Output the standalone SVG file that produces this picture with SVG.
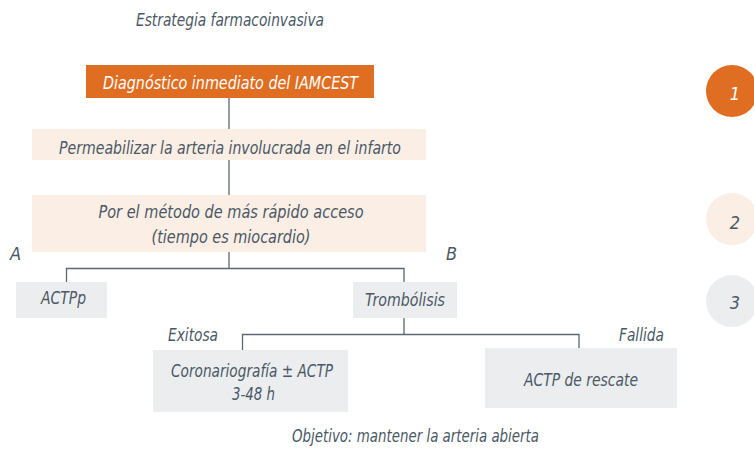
<svg xmlns="http://www.w3.org/2000/svg" width="754" height="459" viewBox="0 0 754 459">
<style>
text{font-family:"DejaVu Sans Condensed","Liberation Sans Narrow","Liberation Sans",sans-serif;font-style:italic;font-size:18px;fill:#4a5866;text-anchor:middle;}
.l{text-anchor:start;}
.w{fill:#ffffff;}
.peach{fill:#fbeee5;}
.grey{fill:#ebedef;}
.orange{fill:#e06e22;}
.ln{fill:none;stroke:#5b6873;stroke-width:1.3;}
</style>
<rect width="754" height="459" fill="#ffffff"/>
<text id="title" x="230" y="26" textLength="188" lengthAdjust="spacingAndGlyphs" style="font-size:17px">Estrategia farmacoinvasiva</text>
<g id="connectors">
<path class="ln" d="M229,98V129"/>
<path class="ln" d="M229,160V195"/>
<path class="ln" d="M229,252V268.5M66.5,282V268.5H404V282"/>
<path class="ln" d="M404,318V334.5M242.5,350V334.5H579V348"/>
</g>
<g id="n1"><rect class="orange" x="86" y="65" width="288" height="33"/><text class="w" x="230.5" y="89" textLength="255" lengthAdjust="spacingAndGlyphs">Diagnóstico inmediato del IAMCEST</text></g>
<g id="n2"><rect class="peach" x="32" y="129" width="394" height="31"/><text x="230" y="154" textLength="342" lengthAdjust="spacingAndGlyphs">Permeabilizar la arteria involucrada en el infarto</text></g>
<g id="n3"><rect class="peach" x="32" y="195" width="394" height="57"/><text x="231" y="218" textLength="265" lengthAdjust="spacingAndGlyphs">Por el método de más rápido acceso</text><text x="231" y="243" textLength="159" lengthAdjust="spacingAndGlyphs">(tiempo es miocardio)</text></g>
<text id="lA" class="l" x="10" y="260">A</text>
<text id="lB" class="l" x="446" y="260">B</text>
<g id="n4"><rect class="grey" x="16" y="282" width="91" height="36"/><text x="63.5" y="304" textLength="45" lengthAdjust="spacingAndGlyphs">ACTPp</text></g>
<g id="n5"><rect class="grey" x="353" y="282" width="104" height="36"/><text x="405" y="306" textLength="80" lengthAdjust="spacingAndGlyphs">Trombólisis</text></g>
<text id="lEx" class="l" x="168" y="341" textLength="50" lengthAdjust="spacingAndGlyphs">Exitosa</text>
<text id="lFa" class="l" x="619" y="341" textLength="45" lengthAdjust="spacingAndGlyphs">Fallida</text>
<g id="n6"><rect class="grey" x="153" y="350" width="195" height="62"/><text x="252" y="377" textLength="162" lengthAdjust="spacingAndGlyphs">Coronariografía ± ACTP</text><text x="253.5" y="400" textLength="43" lengthAdjust="spacingAndGlyphs">3-48 h</text></g>
<g id="n7"><rect class="grey" x="485" y="348" width="192" height="60"/><text x="581" y="386" textLength="114" lengthAdjust="spacingAndGlyphs">ACTP de rescate</text></g>
<text id="goal" x="415.5" y="442" textLength="247" lengthAdjust="spacingAndGlyphs">Objetivo: mantener la arteria abierta</text>
<g id="s1"><circle class="orange" cx="732" cy="91" r="26"/><text class="w" x="735" y="100">1</text></g>
<g id="s2"><circle class="peach" cx="732" cy="219" r="26"/><text x="735" y="229">2</text></g>
<g id="s3"><circle class="grey" cx="732" cy="301" r="26"/><text x="735" y="309">3</text></g>
</svg>
